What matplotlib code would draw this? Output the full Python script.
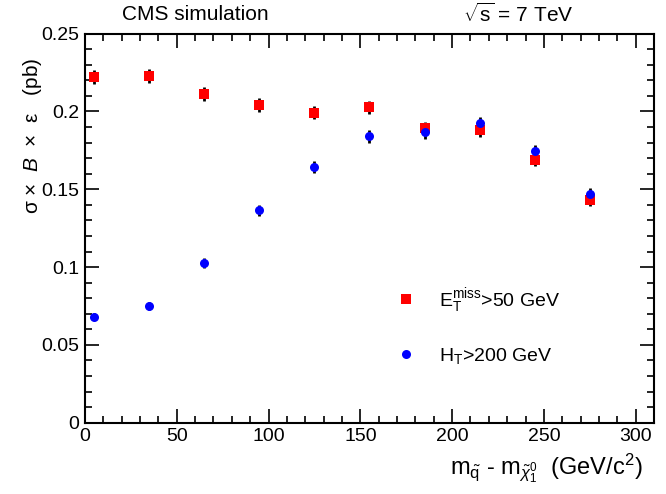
import matplotlib
matplotlib.use("Agg")
import matplotlib.pyplot as plt
from matplotlib.ticker import MultipleLocator

plt.rcParams['font.family'] = ['Liberation Sans', 'DejaVu Sans']
plt.rcParams['mathtext.fontset'] = 'custom'
plt.rcParams['mathtext.rm'] = 'Liberation Sans'
plt.rcParams['mathtext.it'] = 'Liberation Sans:italic'
plt.rcParams['mathtext.bf'] = 'Liberation Sans:bold'

# Data
mass_diff = [5, 35, 65, 95, 125, 155, 185, 215, 245, 275]
met_vals = [0.222, 0.223, 0.2115, 0.2042, 0.1993, 0.2027, 0.1893, 0.1878, 0.169, 0.1428]
met_err = [0.0045, 0.0045, 0.0045, 0.0045, 0.0043, 0.0043, 0.0042, 0.0042, 0.004, 0.0038]
ht_vals = [0.0682, 0.0748, 0.1026, 0.1364, 0.1641, 0.184, 0.1865, 0.1925, 0.1746, 0.1467]
ht_err = [0.0025, 0.0027, 0.003, 0.0035, 0.0038, 0.004, 0.004, 0.0042, 0.004, 0.0038]

fig = plt.figure(figsize=(6.66, 4.94), dpi=100)
ax = fig.add_axes([0.1276, 0.1443, 0.8544, 0.7877])

ax.errorbar(mass_diff, met_vals, yerr=met_err, fmt='none', ecolor='black', elinewidth=2, capsize=0, zorder=2)
ax.errorbar(mass_diff, ht_vals, yerr=ht_err, fmt='none', ecolor='black', elinewidth=2, capsize=0, zorder=2)
ax.plot(mass_diff, met_vals, 's', color='#ff0000', markersize=6.5, mew=0, linestyle='none', zorder=3,
        label=r'E$_{\mathrm{T}}^{\mathrm{miss}}$>50 GeV')
ax.plot(mass_diff, ht_vals, 'o', color='#0000ff', markersize=6.5, mew=0, linestyle='none', zorder=3,
        label=r'H$_{\mathrm{T}}$>200 GeV')

ax.set_xlim(0, 310)
ax.set_ylim(0, 0.25)
ax.xaxis.set_major_locator(MultipleLocator(50))
ax.xaxis.set_minor_locator(MultipleLocator(10))
ax.yaxis.set_minor_locator(MultipleLocator(0.01))
ax.set_yticks([0, 0.05, 0.1, 0.15, 0.2, 0.25])
ax.set_yticklabels(['0', '0.05', '0.1', '0.15', '0.2', '0.25'])
ax.tick_params(which='both', direction='in', top=True, right=True, width=1.2, labelsize=14, pad=4)
ax.tick_params(which='major', length=10)
ax.tick_params(which='minor', length=5)
for s in ax.spines.values():
    s.set_linewidth(1.5)

fig.text(643 / 666, 1 - 468 / 494,
         r'm$_{\tilde{\mathrm{q}}}$ - m$_{\tilde{\chi}^{0}_{1}}$  (GeV/c$^{2}$)',
         fontsize=17, ha='right', va='center')
fig.text(33 / 666, 1 - 58 / 494, 'σ ×  $B$  ×  ε   (pb)', fontsize=15,
         rotation=90, ha='center', va='top')

fig.text(195 / 666, 1 - 14 / 494, 'CMS simulation', fontsize=15, ha='center', va='center')
fig.text(518 / 666, 1 - 14 / 494, r'$\sqrt{\mathrm{s}}$ = 7 TeV', fontsize=15, ha='center', va='center')

ax.legend(loc='upper left', bbox_to_anchor=(0.5, 0.397), frameon=False, fontsize=14,
          handletextpad=0.7, labelspacing=1.6, numpoints=1)

fig.savefig('out.png', dpi=100)
